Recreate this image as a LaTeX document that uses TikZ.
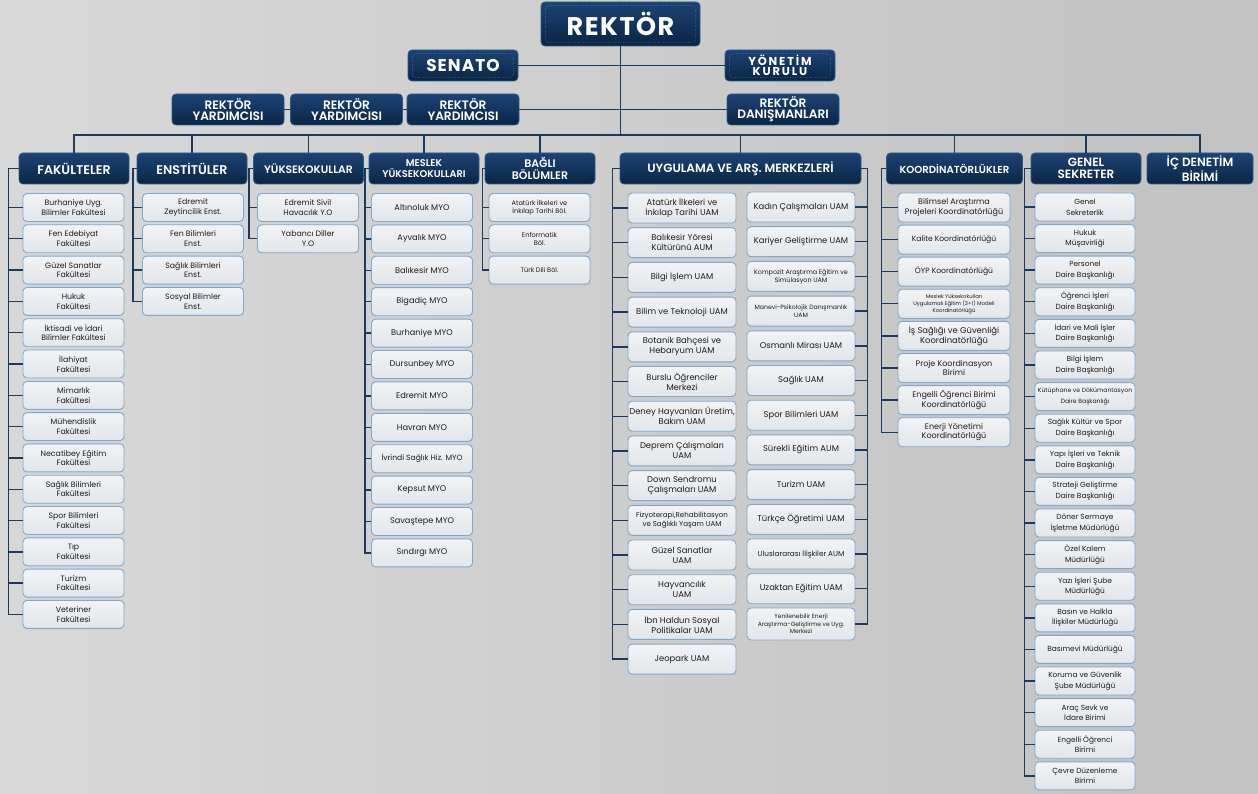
\documentclass[tikz,border=0pt]{standalone}
\usepackage{fontspec}
\setmainfont{Poppins}[BoldFont={Poppins SemiBold}]
\newfontfamily\spacedfont{Poppins}[LetterSpace=6,BoldFont={Poppins Bold}]
\newfontfamily\widefont{Poppins}[LetterSpace=16,BoldFont={Poppins Bold}]
\usepackage{tikz}

\definecolor{bgL}{HTML}{D8D8D8}
\definecolor{bgM}{HTML}{EDEDED}
\definecolor{bgR}{HTML}{C2C2C2}
\definecolor{hdrtop}{HTML}{1D4373}
\definecolor{hdrbot}{HTML}{0A2545}
\definecolor{hdrline}{HTML}{2E5A8A}
\definecolor{dotline}{HTML}{7C9CC4}
\definecolor{linkc}{HTML}{1B3A5E}
\definecolor{leafline}{HTML}{7FA8CF}
\definecolor{leaftop}{HTML}{F1F3F5}
\definecolor{leafbot}{HTML}{E2E6EA}
\definecolor{leaftext}{HTML}{1C1C1C}

\begin{document}
\begin{tikzpicture}[x=1pt, y=-1pt,
    head/.style={draw=hdrline, line width=0.8pt, rounded corners=4pt, top color=hdrtop, bottom color=hdrbot,
        text=white, align=center, inner sep=1pt, minimum height=31pt, minimum width=110pt,
        font={\bfseries\fontsize{12}{12.5}\selectfont}},
    chief/.style={head, font={\spacedfont\bfseries\fontsize{17}{14}\selectfont}},
    leaf/.style={draw=leafline, line width=0.9pt, rounded corners=4pt, top color=leaftop, bottom color=leafbot,
        text=leaftext, align=center, inner sep=1pt, minimum width=101pt, minimum height=28pt,
        font={\fontsize{7.8}{9.6}\selectfont}},
    uambox/.style={leaf, minimum width=108pt, minimum height=30pt, font={\fontsize{8.4}{10}\selectfont}},
    koobox/.style={leaf, minimum width=112pt, minimum height=29pt, font={\fontsize{8}{9.6}\selectfont}},
    myobox/.style={leaf, font={\fontsize{8.2}{9.6}\selectfont}},
    gsbox/.style={leaf, minimum width=100pt, font={\fontsize{7.4}{10.6}\selectfont}},
    link/.style={draw=linkc, line width=1.4pt},
    dotbox/.style={draw=dotline, line width=0.5pt, dotted, rounded corners=3pt}]

    % background
    \fill[left color=bgL, middle color=bgM, right color=bgR] (0,0) rectangle (1258,794);
    \useasboundingbox (0,0) rectangle (1258,794);

    % top management
    \node[chief, minimum width=159pt, minimum height=44pt, font={\spacedfont\bfseries\fontsize{25.5}{26}\selectfont}] (rek) at (620.5,24) {REKTÖR};
    \node[chief] (sen) at (463,65.5) {SENATO};
    \node[chief, font={\widefont\bfseries\fontsize{11.5}{10.5}\selectfont}] (yon) at (780,65.5) {YÖNETİM\\KURULU};
    \draw[dotbox] ([shift={(5,4)}]rek.north west) rectangle ([shift={(-5,-4)}]rek.south east);
    \draw[dotbox] ([shift={(5,4)}]sen.north west) rectangle ([shift={(-5,-4)}]sen.south east);
    \draw[dotbox] ([shift={(5,4)}]yon.north west) rectangle ([shift={(-5,-4)}]yon.south east);

    \node[head, minimum width=112pt, font={\bfseries\fontsize{12.2}{11}\selectfont}] (ry1) at (228,109.5) {REKTÖR\\YARDIMCISI};
    \node[head, minimum width=112pt, font={\bfseries\fontsize{12.2}{11}\selectfont}] (ry2) at (346.5,109.5) {REKTÖR\\YARDIMCISI};
    \node[head, minimum width=112pt, font={\bfseries\fontsize{12.2}{11}\selectfont}] (ry3) at (463,109.5) {REKTÖR\\YARDIMCISI};
    \node[head, minimum width=112pt, font={\bfseries\fontsize{12.2}{11}\selectfont}] (dan) at (783,109.5) {REKTÖR\\DANIŞMANLARI};

    % units
    \node[head, font={\bfseries\fontsize{12.6}{13}\selectfont}] (fak) at (74,168.5) {FAKÜLTELER};
    \node[head, font={\bfseries\fontsize{12.6}{13}\selectfont}] (ens) at (192,168.5) {ENSTİTÜLER};
    \node[head, font={\bfseries\fontsize{10.8}{12}\selectfont}] (yo) at (308.5,168.5) {YÜKSEKOKULLAR};
    \node[head, font={\bfseries\fontsize{9.8}{11}\selectfont}] (myo) at (424,168.5) {MESLEK\\YÜKSEKOKULLARI};
    \node[head, font={\bfseries\fontsize{11}{12}\selectfont}] (bol) at (540,168.5) {BAĞLI\\BÖLÜMLER};
    \node[head, minimum width=241pt] (uam) at (740.5,168.5) {UYGULAMA VE ARŞ. MERKEZLERİ};
    \node[head, minimum width=136pt, font={\bfseries\fontsize{10.2}{11}\selectfont}] (koo) at (954.5,168.5) {KOORDİNATÖRLÜKLER};
    \node[head] (gs) at (1086,168.5) {GENEL\\SEKRETER};
    \node[head, minimum width=106pt] (ic) at (1200,168.5) {İÇ DENETİM\\BİRİMİ};

    % Fakülteler
    \node[leaf] (fak1) at (73.5,207.5) {Burhaniye Uyg.\\Bilimler Fakültesi};
    \node[leaf] (fak2) at (73.5,238.8) {Fen Edebiyat\\Fakültesi};
    \node[leaf] (fak3) at (73.5,270.1) {Güzel Sanatlar\\Fakültesi};
    \node[leaf] (fak4) at (73.5,301.4) {Hukuk\\Fakültesi};
    \node[leaf] (fak5) at (73.5,332.7) {İktisadi ve İdari\\Bilimler Fakültesi};
    \node[leaf] (fak6) at (73.5,364.0) {İlahiyat\\Fakültesi};
    \node[leaf] (fak7) at (73.5,395.3) {Mimarlık\\Fakültesi};
    \node[leaf] (fak8) at (73.5,426.6) {Mühendislik\\Fakültesi};
    \node[leaf] (fak9) at (73.5,457.9) {Necatibey Eğitim\\Fakültesi};
    \node[leaf] (fak10) at (73.5,489.2) {Sağlık Bilimleri\\Fakültesi};
    \node[leaf] (fak11) at (73.5,520.5) {Spor Bilimleri\\Fakültesi};
    \node[leaf] (fak12) at (73.5,551.8) {Tıp\\Fakültesi};
    \node[leaf] (fak13) at (73.5,583.1) {Turizm\\Fakültesi};
    \node[leaf] (fak14) at (73.5,614.4) {Veteriner\\Fakültesi};

    % Enstitüler
    \node[leaf] (ens1) at (193,207.5) {Edremit\\Zeytincilik Enst.};
    \node[leaf] (ens2) at (193,238.8) {Fen Bilimleri\\Enst.};
    \node[leaf] (ens3) at (193,270.1) {Sağlık Bilimleri\\Enst.};
    \node[leaf] (ens4) at (193,301.4) {Sosyal Bilimler\\Enst.};

    % Yüksekokullar
    \node[leaf] (yo1) at (308,207.5) {Edremit Sivil\\Havacılık Y.O};
    \node[leaf] (yo2) at (308,238.8) {Yabancı Diller\\Y.O};

    % Meslek Yüksekokulları
    \node[myobox] (myo1) at (422,207.5) {Altınoluk MYO};
    \node[myobox] (myo2) at (422,238.9) {Ayvalık MYO};
    \node[myobox] (myo3) at (422,270.3) {Balıkesir MYO};
    \node[myobox] (myo4) at (422,301.7) {Bigadiç MYO};
    \node[myobox] (myo5) at (422,333.1) {Burhaniye MYO};
    \node[myobox] (myo6) at (422,364.5) {Dursunbey MYO};
    \node[myobox] (myo7) at (422,395.9) {Edremit MYO};
    \node[myobox] (myo8) at (422,427.3) {Havran MYO};
    \node[myobox, font={\fontsize{7.6}{9}\selectfont}] (myo9) at (422,458.7) {İvrindi Sağlık Hiz. MYO};
    \node[myobox] (myo10) at (422,490.1) {Kepsut MYO};
    \node[myobox] (myo11) at (422,521.5) {Savaştepe MYO};
    \node[myobox] (myo12) at (422,552.9) {Sındırgı MYO};

    % Bağlı Bölümler
    \node[leaf, font={\fontsize{6.6}{8.4}\selectfont}] (bol1) at (539.5,207.5) {Atatürk İlkeleri ve\\İnkılap Tarihi Böl.};
    \node[leaf, font={\fontsize{6.6}{8.4}\selectfont}] (bol2) at (539.5,238.8) {Enformatik\\Böl.};
    \node[leaf, font={\fontsize{6.6}{8.4}\selectfont}] (bol3) at (539.5,270.1) {Türk Dili Böl.};

    % Uygulama ve Araştırma Merkezleri
    \node[uambox] (uaml1) at (682,208) {Atatürk İlkeleri ve\\İnkılap Tarihi UAM};
    \node[uambox] (uaml2) at (682,242.7) {Balıkesir Yöresi\\Kültürünü AUM};
    \node[uambox] (uaml3) at (682,277.4) {Bilgi İşlem UAM};
    \node[uambox] (uaml4) at (682,312.1) {Bilim ve Teknoloji UAM};
    \node[uambox] (uaml5) at (682,346.8) {Botanik Bahçesi ve\\Hebaryum UAM};
    \node[uambox] (uaml6) at (682,381.5) {Burslu Öğrenciler\\Merkezi};
    \node[uambox] (uaml7) at (682,416.2) {Deney Hayvanları Üretim,\\Bakım UAM};
    \node[uambox] (uaml8) at (682,450.9) {Deprem Çalışmaları\\UAM};
    \node[uambox] (uaml9) at (682,485.6) {Down Sendromu\\Çalışmaları UAM};
    \node[uambox, font={\fontsize{7.1}{9.2}\selectfont}] (uaml10) at (682,520.3) {Fizyoterapi,Rehabilitasyon\\ve Sağlıklı Yaşam UAM};
    \node[uambox] (uaml11) at (682,555) {Güzel Sanatlar\\UAM};
    \node[uambox] (uaml12) at (682,589.7) {Hayvancılık\\UAM};
    \node[uambox] (uaml13) at (682,624.4) {İbn Haldun Sosyal\\Politikalar UAM};
    \node[uambox] (uaml14) at (682,659.1) {Jeopark UAM};

    \node[uambox] (uamr1) at (801,207) {Kadın Çalışmaları UAM};
    \node[uambox] (uamr2) at (801,241.7) {Kariyer Geliştirme UAM};
    \node[uambox, font={\fontsize{6.4}{8}\selectfont}] (uamr3) at (801,276.4) {Kompozit Araştırma Eğitim ve\\Simülasyon UAM};
    \node[uambox, font={\fontsize{6.2}{8}\selectfont}] (uamr4) at (801,311.1) {Manevi-Psikolojik Danışmanlık\\UAM};
    \node[uambox] (uamr5) at (801,345.8) {Osmanlı Mirası UAM};
    \node[uambox] (uamr6) at (801,380.5) {Sağlık UAM};
    \node[uambox] (uamr7) at (801,415.2) {Spor Bilimleri UAM};
    \node[uambox] (uamr8) at (801,449.9) {Sürekli Eğitim AUM};
    \node[uambox] (uamr9) at (801,484.6) {Turizm UAM};
    \node[uambox] (uamr10) at (801,519.3) {Türkçe Öğretimi UAM};
    \node[uambox, font={\fontsize{7.3}{9}\selectfont}] (uamr11) at (801,554) {Uluslararası İlişkiler AUM};
    \node[uambox] (uamr12) at (801,588.7) {Uzaktan Eğitim UAM};
    \node[uambox, minimum height=32pt, font={\fontsize{6}{7.6}\selectfont}] (uamr13) at (801,624) {Yenilenebilir Enerji\\Araştırma-Geliştirme ve Uyg.\\Merkezi};

    % Koordinatörlükler
    \node[koobox] (koo1) at (954,207.5) {Bilimsel Araştırma\\Projeleri Koordinatörlüğü};
    \node[koobox, font={\fontsize{7.6}{9}\selectfont}] (koo2) at (954,239.6) {Kalite Koordinatörlüğü};
    \node[koobox, font={\fontsize{7.6}{9}\selectfont}] (koo3) at (954,271.7) {ÖYP Koordinatörlüğü};
    \node[koobox, font={\fontsize{5.3}{7}\selectfont}] (koo4) at (954,303.8) {Meslek Yüksekokulları\\Uygulamalı Eğitim (3+1) Modeli\\Koordinatörlüğü};
    \node[koobox, font={\fontsize{8.4}{9.8}\selectfont}] (koo5) at (954,335.9) {İş Sağlığı ve Güvenliği\\Koordinatörlüğü};
    \node[koobox] (koo6) at (954,368) {Proje Koordinasyon\\Birimi};
    \node[koobox] (koo7) at (954,400.1) {Engelli Öğrenci Birimi\\Koordinatörlüğü};
    \node[koobox] (koo8) at (954,432.2) {Enerji Yönetimi\\Koordinatörlüğü};

    % Genel Sekreter
    \node[gsbox] (gs1) at (1085,207) {Genel\\Sekreterlik};
    \node[gsbox] (gs2) at (1085,238.6) {Hukuk\\Müşavirliği};
    \node[gsbox] (gs3) at (1085,270.2) {Personel\\Daire Başkanlığı};
    \node[gsbox] (gs4) at (1085,301.8) {Öğrenci İşleri\\Daire Başkanlığı};
    \node[gsbox] (gs5) at (1085,333.4) {İdari ve Mali İşler\\Daire Başkanlığı};
    \node[gsbox] (gs6) at (1085,365) {Bilgi İşlem\\Daire Başkanlığı};
    \node[gsbox, font={\fontsize{6.1}{10.6}\selectfont}] (gs7) at (1085,396.6) {Kütüphane ve Dökümantasyon\\Daire Başkanlığı};
    \node[gsbox] (gs8) at (1085,428.2) {Sağlık Kültür ve Spor\\Daire Başkanlığı};
    \node[gsbox] (gs9) at (1085,459.8) {Yapı İşleri ve Teknik\\Daire Başkanlığı};
    \node[gsbox] (gs10) at (1085,491.4) {Strateji Geliştirme\\Daire Başkanlığı};
    \node[gsbox] (gs11) at (1085,523) {Döner Sermaye\\İşletme Müdürlüğü};
    \node[gsbox] (gs12) at (1085,554.6) {Özel Kalem\\Müdürlüğü};
    \node[gsbox] (gs13) at (1085,586.2) {Yazı İşleri Şube\\Müdürlüğü};
    \node[gsbox] (gs14) at (1085,617.8) {Basın ve Halkla\\İlişkiler Müdürlüğü};
    \node[gsbox] (gs15) at (1085,649.4) {Basımevi Müdürlüğü};
    \node[gsbox] (gs16) at (1085,681) {Koruma ve Güvenlik\\Şube Müdürlüğü};
    \node[gsbox] (gs17) at (1085,712.6) {Araç Sevk ve\\İdare Birimi};
    \node[gsbox] (gs18) at (1085,744.2) {Engelli Öğrenci\\Birimi};
    \node[gsbox] (gs19) at (1085,775.8) {Çevre Düzenleme\\Birimi};

    % connectors of the top
    \coordinate (bus) at (620.5,135);
    \draw[link] (rek.south) -- (bus);
    \draw[link] (sen.east) -- (yon.west);
    \draw[link] (ry1.east) -- (ry2.west);
    \draw[link] (ry2.east) -- (ry3.west);
    \draw[link] (ry3.east) -- (dan.west);
    \draw[link] (fak.north) |- (bus) -| (ic.north);
    \foreach \h in {ens,yo,myo,bol,uam,koo,gs}
        \draw[link] (\h.north) -- (\h.north |- bus);

    % spines
    \draw[link] (fak.west) -| ([xshift=-14pt]fak14.west) -- (fak14.west);
    \foreach \i in {1,...,13} \draw[link] (fak\i.west) -- ++(-14,0);
    \draw[link] (ens.west) -| ([xshift=-9pt]ens4.west) -- (ens4.west);
    \foreach \i in {1,...,3} \draw[link] (ens\i.west) -- ++(-9,0);
    \draw[link] (yo.west) -| ([xshift=-8pt]yo2.west) -- (yo2.west);
    \draw[link] (yo1.west) -- ++(-8,0);
    \draw[link] (myo.west) -| ([xshift=-6pt]myo12.west) -- (myo12.west);
    \foreach \i in {1,...,11} \draw[link] (myo\i.west) -- ++(-6,0);
    \draw[link] (bol.west) -| ([xshift=-6pt]bol3.west) -- (bol3.west);
    \foreach \i in {1,2} \draw[link] (bol\i.west) -- ++(-6,0);
    \draw[link] (uam.west) -| ([xshift=-15pt]uaml14.west) -- (uaml14.west);
    \foreach \i in {1,...,13} \draw[link] (uaml\i.west) -- ++(-15,0);
    \draw[link] (uam.east) -| ([xshift=12pt]uamr13.east) -- (uamr13.east);
    \foreach \i in {1,...,12} \draw[link] (uamr\i.east) -- ++(12,0);
    \draw[link] (koo.west) -| ([xshift=-16pt]koo8.west) -- (koo8.west);
    \foreach \i in {1,...,7} \draw[link] (koo\i.west) -- ++(-16,0);
    \draw[link] (gs.west) -| ([xshift=-10pt]gs19.west) -- (gs19.west);
    \foreach \i in {1,...,18} \draw[link] (gs\i.west) -- ++(-10,0);
\end{tikzpicture}
\end{document}
